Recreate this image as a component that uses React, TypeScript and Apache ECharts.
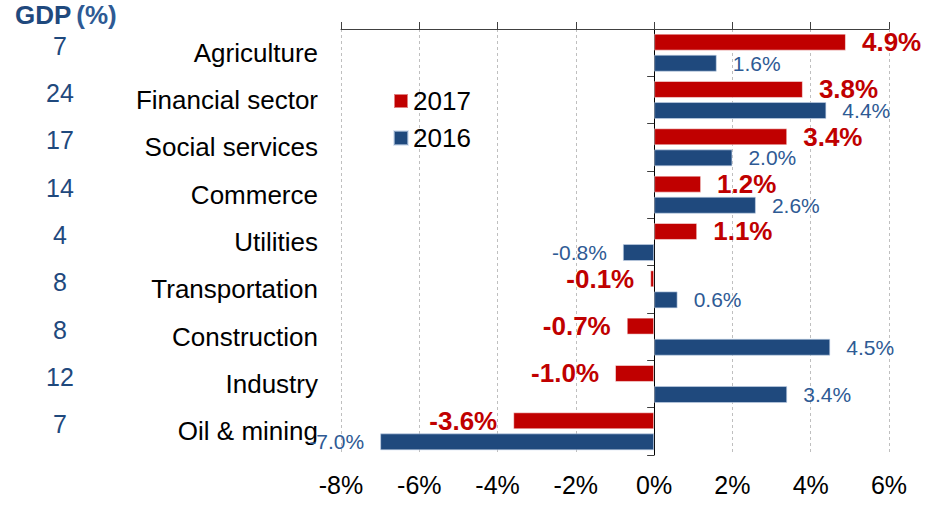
import React, { useEffect, useRef } from "react";
import * as echarts from "echarts";

const categories = [
  "Agriculture",
  "Financial sector",
  "Social services",
  "Commerce",
  "Utilities",
  "Transportation",
  "Construction",
  "Industry",
  "Oil & mining",
];
const gdpShare = ["7", "24", "17", "14", "4", "8", "8", "12", "7"];
const values2017 = [4.9, 3.8, 3.4, 1.2, 1.1, -0.1, -0.7, -1.0, -3.6];
const values2016 = [1.6, 4.4, 2.0, 2.6, -0.8, 0.6, 4.5, 3.4, -7.0];
const xMin = -8;
const xMax = 6;
const xInterval = 2;

const FONT = "'Liberation Sans', Arial, sans-serif";
const RED = "#C00000";
const BLUE = "#1F497D";
const BLUE_TEXT = "#2E5A94";

export default function App() {
  const ref = useRef<HTMLDivElement>(null);

  useEffect(() => {
    document.body.style.margin = "0";
    if (!ref.current) return;
    const chart = echarts.init(ref.current, undefined, { renderer: "svg" });

    const mkData = (vals: number[], dist: number) =>
      vals.map((v) => ({
        value: v,
        label: { position: v >= 0 ? "right" : "left", distance: dist },
      }));

    const option: any = {
      animation: false,
      textStyle: { fontFamily: FONT },
      title: {
        left: 15,
        top: 2,
        padding: 0,
        text: "{b|GDP} {n|(%)}",
        textStyle: {
          rich: {
            b: { fontFamily: FONT, fontSize: 26, fontWeight: "bold", color: BLUE },
            n: { fontFamily: FONT, fontSize: 26, color: BLUE_TEXT },
          },
        },
      },
      legend: {
        orient: "vertical",
        left: 393,
        top: 88,
        padding: 0,
        itemWidth: 14,
        itemHeight: 14,
        itemGap: 11,
        icon: "rect",
        data: ["2017", "2016"],
        textStyle: { fontFamily: FONT, fontSize: 26, color: "#000" },
      },
      grid: { left: 341, right: 53, top: 29, bottom: 50, containLabel: false },
      xAxis: [
        {
          type: "value",
          position: "bottom",
          min: xMin,
          max: xMax,
          interval: xInterval,
          axisLine: { show: false },
          axisTick: { show: false },
          axisLabel: {
            formatter: "{value}%",
            fontFamily: FONT,
            fontSize: 25,
            color: "#000",
            margin: 17,
          },
          splitLine: {
            show: true,
            lineStyle: { color: "#BFBFBF", type: [3, 3], width: 1 },
          },
        },
        {
          type: "value",
          position: "top",
          min: xMin,
          max: xMax,
          interval: xInterval,
          axisLine: { show: true, onZero: false, lineStyle: { color: "#404040", width: 1 } },
          axisTick: { show: true, length: 7, lineStyle: { color: "#404040" } },
          axisLabel: { show: false },
          splitLine: { show: false },
        },
      ],
      yAxis: [
        {
          type: "category",
          inverse: true,
          data: categories,
          axisLine: { show: true, onZero: true, lineStyle: { color: "#000", width: 1 } },
          axisTick: { show: true, length: 7, lineStyle: { color: "#404040" } },
          axisLabel: { show: false },
          splitLine: { show: false },
        },
        {
          type: "category",
          inverse: true,
          position: "left",
          data: categories,
          axisLine: { show: false, onZero: false },
          axisTick: { show: false },
          axisLabel: {
            fontFamily: FONT,
            fontSize: 26,
            color: "#000",
            margin: 23,
          },
        },
        {
          type: "category",
          inverse: true,
          position: "left",
          data: gdpShare,
          axisLine: { show: false, onZero: false },
          axisTick: { show: false },
          axisLabel: {
            margin: 281,
            align: "center",
            formatter: "{g|{value}}",
            rich: {
              g: {
                fontFamily: FONT,
                fontSize: 25,
                color: BLUE,
                padding: [0, 0, 14, 0],
              },
            },
          },
        },
      ],
      series: [
        {
          name: "2017",
          type: "bar",
          xAxisIndex: 0,
          yAxisIndex: 0,
          barWidth: 17,
          barGap: "24%",
          itemStyle: { color: RED, borderColor: "rgba(255,255,255,0.5)", borderWidth: 1 },
          label: {
            show: true,
            fontFamily: FONT,
            fontSize: 26,
            fontWeight: "bold",
            color: RED,
            formatter: (p: any) => p.value.toFixed(1) + "%",
          },
          data: mkData(values2017, 16),
        },
        {
          name: "2016",
          type: "bar",
          xAxisIndex: 0,
          yAxisIndex: 0,
          barWidth: 17,
          barGap: "24%",
          itemStyle: { color: BLUE, borderColor: "rgba(200,215,235,0.6)", borderWidth: 1 },
          label: {
            show: true,
            fontFamily: FONT,
            fontSize: 21,
            color: BLUE_TEXT,
            formatter: (p: any) => p.value.toFixed(1) + "%",
          },
          data: mkData(values2016, 16),
        },
      ],
    };

    chart.setOption(option);
    return () => chart.dispose();
  }, []);

  return <div ref={ref} style={{ width: 942, height: 505 }} />;
}
